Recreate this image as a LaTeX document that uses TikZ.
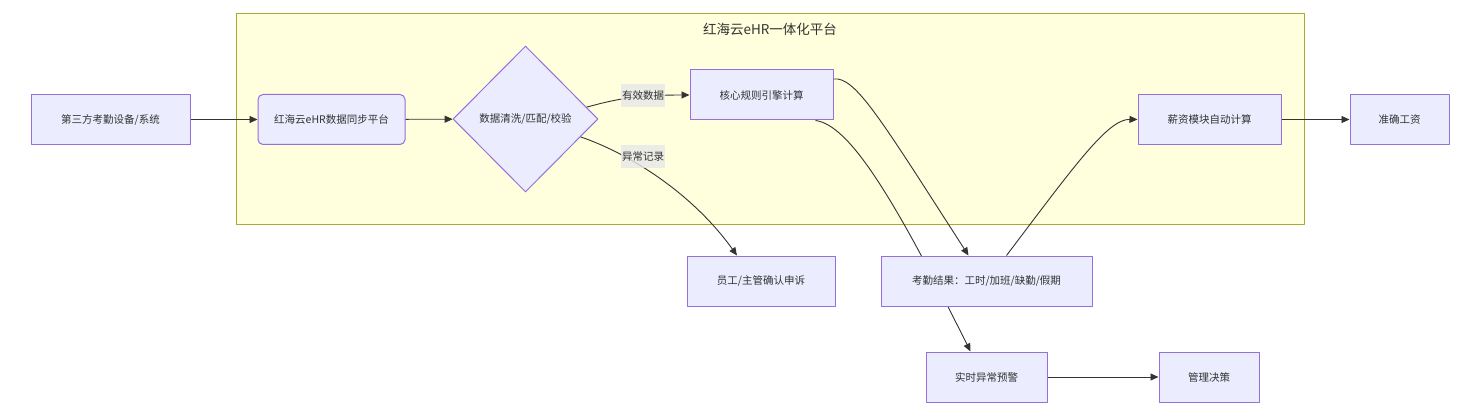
\documentclass[tikz,border=0pt]{standalone}
\usepackage{fontspec}
\setmainfont{Noto Sans CJK SC}
\usetikzlibrary{arrows.meta,shapes.geometric}
\definecolor{boxfill}{HTML}{ECECFF}
\definecolor{boxline}{HTML}{9370DB}
\definecolor{grpfill}{HTML}{FFFFDE}
\definecolor{grpline}{HTML}{AAAA33}
\definecolor{ink}{HTML}{333333}
\definecolor{lblfill}{HTML}{E8E8E8}
\begin{document}
\begin{tikzpicture}[x=1pt,y=-1pt,line join=round,font=\fontsize{10.5}{12}\selectfont,text=ink,
	box/.style={draw=boxline,fill=boxfill,line width=1pt,minimum height=50pt,inner sep=0pt},
	lbl/.style={fill=lblfill,fill opacity=.8,text opacity=1,inner xsep=1pt,inner ysep=0pt,minimum height=23pt},
	link/.style={draw=ink,line width=.9pt,-{Triangle[length=8pt,width=7pt]}}]
		\useasboundingbox (0,0) rectangle (1476,417);
		\draw[draw=grpline,fill=grpfill,line width=1pt] (236,14) rectangle (1304,224);
		\node[font=\fontsize{13.5}{15}\selectfont] (title) at (770,29) {红海云eHR一体化平台};
		\node[box,minimum width=159pt] (src) at (110.5,119.5) {第三方考勤设备/系统};
		\node[box,minimum width=147pt,rounded corners=5pt] (sync) at (331.5,119.5) {红海云eHR数据同步平台};
		\node[box,diamond,minimum width=145pt,minimum height=146pt] (chk) at (525.5,119) {数据清洗/匹配/校验};
		\node[box,minimum width=143pt] (core) at (761.5,95) {核心规则引擎计算};
		\node[box,minimum width=143pt] (pay) at (1209.5,119.5) {薪资模块自动计算};
		\node[box,minimum width=99pt] (wage) at (1399.5,119.5) {准确工资};
		\node[box,minimum width=148pt] (appeal) at (761,281) {员工/主管确认申诉};
		\node[box,minimum width=121pt] (alert) at (986.5,377) {实时异常预警};
		\node[box,minimum width=100pt] (decide) at (1209,377) {管理决策};
		\draw[link] ([xshift=54pt]core.south) .. controls (850,125) and (895,200) .. ([xshift=-16pt]alert.north);
		\node[box,minimum width=211pt] (result) at (986.5,281) {考勤结果：工时/加班/缺勤/假期};
		\draw[link] (src) -- (sync);
		\draw[link] (sync) -- (chk);
		\draw[link] (chk.11) .. controls (610,101) and (630,95) .. (core.west);
		\draw[link] (chk.-18) .. controls (625,152) and (690,190) .. ([xshift=-24pt]appeal.north);
		\draw[link] ([yshift=16pt]core.east) .. controls (855,76) and (880,118) .. ([xshift=-18pt]result.north);
		\draw[link] ([xshift=20pt]result.north) .. controls (1075,165) and (1108,119) .. (pay.west);
		\draw[link] (pay) -- (wage);
		\draw[link] (alert) -- (decide);
		\node[lbl] (ok) at (643,95.5) {有效数据};
		\node[lbl] (err) at (643,157) {异常记录};
	\end{tikzpicture}
\end{document}
